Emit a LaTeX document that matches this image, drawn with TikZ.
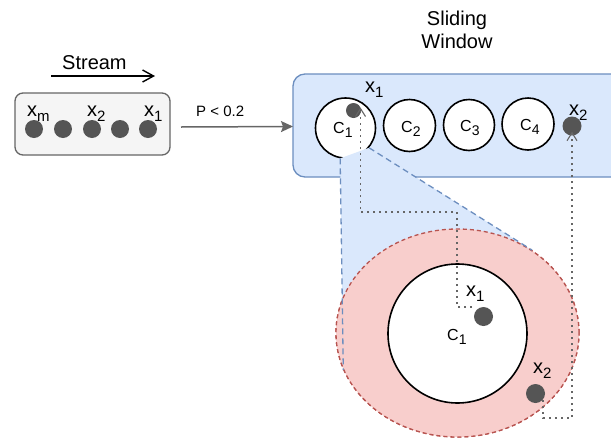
\documentclass[tikz,border=0pt]{standalone}
\usepackage{fontspec}
\setmainfont{Liberation Sans}
\usetikzlibrary{arrows.meta,shapes.geometric}
\definecolor{bluefill}{HTML}{DAE8FC}
\definecolor{blueline}{HTML}{6C8EBF}
\definecolor{pinkfill}{HTML}{F8CECC}
\definecolor{redline}{HTML}{B85450}
\definecolor{dotc}{HTML}{555555}
\definecolor{grayline}{HTML}{666666}
\definecolor{boxfill}{HTML}{F5F5F5}
\newcommand\lbl[2]{#1\raisebox{-5pt}{\fontsize{15}{15}\selectfont #2}}
\newcommand\clbl[1]{{\fontsize{16}{16}\selectfont C}\raisebox{-4.5pt}{\fontsize{14}{14}\selectfont #1}}
\begin{document}
\begin{tikzpicture}[x=1pt,y=-1pt,
  lab/.style={inner sep=0pt, anchor=base west, font=\fontsize{20}{23}\selectfont},
  ptdot/.style={circle, fill=dotc, draw=none, inner sep=0pt, minimum size=#1},
  clus/.style={circle, draw=black, line width=1.6pt, fill=white, inner sep=0pt, minimum size=#1},
  dotline/.style={draw=grayline, line width=1.6pt, dash pattern=on 1.6pt off 4.4pt,
     -{Straight Barb[length=8pt,width=10pt,line width=1.1pt]}},
  zoomline/.style={draw=blueline, line width=1.3pt, dash pattern=on 6pt off 4pt}]
\useasboundingbox (0,0) rectangle (611,437);
\clip (0,0) rectangle (611,437);

% stream
\node[lab] (stream) at (62,69) {Stream};
\coordinate (sa) at (51,76);
\coordinate (sb) at (155,76);
\draw[line width=1.5pt, -{Straight Barb[length=11pt,width=12pt,line width=1.4pt]}] (sa) -- (sb);
\node[draw=grayline, fill=boxfill, line width=1.3pt, rounded corners=8pt, minimum width=155pt, minimum height=62pt, inner sep=0pt] (sbox) at (92.5,124) {};
\foreach \i/\x in {1/34,2/63,3/92,4/120,5/148}{
  \node[ptdot=18pt] (s\i) at (\x,129) {};
}
\node[lab] (lxm) at (27,116) {\lbl{x}{m}};
\node[lab] (lx2) at (87,116) {\lbl{x}{2}};
\node[lab] (lx1) at (144,116) {\lbl{x}{1}};

% P arrow
\node[inner sep=0pt, anchor=base west, font=\fontsize{15}{18}\selectfont] (plab) at (196,116) {P < 0.2};

% sliding window box
\node[lab, anchor=base] (sl1) at (457,25) {Sliding};
\node[lab, anchor=base] (sl2) at (457,48) {Window};
\draw[draw=blueline, fill=bluefill, line width=1.3pt, rounded corners=12pt] (293,74) rectangle (630,177);
\node[inner sep=0pt, minimum width=0pt] (win) at (293,126.5) {};
\draw[draw=grayline, line width=1.5pt, -{Stealth[length=12pt,width=11pt,inset=2pt]}] (181,127) -- (win.center);

\node[clus=60pt] (c1) at (345.5,128) {};
\node[clus=52pt] (c2) at (409.5,125.5) {};
\node[clus=51pt] (c3) at (469,125) {};
\node[clus=52pt] (c4) at (528,124) {};

% zoom callout
\node[ellipse, draw=redline, fill=pinkfill, line width=1.3pt, dash pattern=on 4pt off 3pt, minimum width=243pt, minimum height=208pt, inner sep=0pt] (ell) at (457.5,333) {};
\fill[bluefill] (c1.260) -- (c1.-40) -- (ell.48) -- (ell.198) -- cycle;
\node[ellipse, draw=redline, fill=pinkfill, line width=1.3pt, dash pattern=on 4pt off 3pt, minimum width=243pt, minimum height=208pt, inner sep=0pt] (ell2) at (457.5,333) {};
\draw[zoomline] (c1.260) -- (ell.198);
\draw[zoomline] (c1.-40) -- (ell.48);
\node[clus=139pt] (big) at (457.5,333.5) {};

% points
\node[ptdot=15pt] (x1s) at (353.5,110.5) {};
\node[ptdot=19pt] (x2s) at (572,126) {};
\node[ptdot=19pt] (bx1) at (483.5,316.5) {};
\node[ptdot=19pt] (bx2) at (535.5,393.5) {};

% labels
\node[lab] (c1l) at (333,133) {\clbl{1}};
\node[lab] (c2l) at (401,132) {\clbl{2}};
\node[lab] (c3l) at (460,131) {\clbl{3}};
\node[lab] (c4l) at (520,130) {\clbl{4}};
\node[lab] (bcl) at (447,340) {\clbl{1}};
\node[lab] (tx1) at (365,92) {\lbl{x}{1}};
\node[lab] (tx2) at (569,115) {\lbl{x}{2}};
\node[lab] (bx1l) at (466,296) {\lbl{x}{1}};
\node[lab] (bx2l) at (533,373) {\lbl{x}{2}};

% dotted links
\coordinate (p1) at (472,307);
\coordinate (p2) at (457,212);
\draw[dotline] (p1) -| (p2) -| ([xshift=7pt,yshift=3pt]x1s.center);
\coordinate (q1) at (543,400);
\coordinate (q2) at (572,418);
\draw[dotline] (q1) |- (q2) -- ([yshift=4pt]x2s.south);
\end{tikzpicture}
\end{document}
